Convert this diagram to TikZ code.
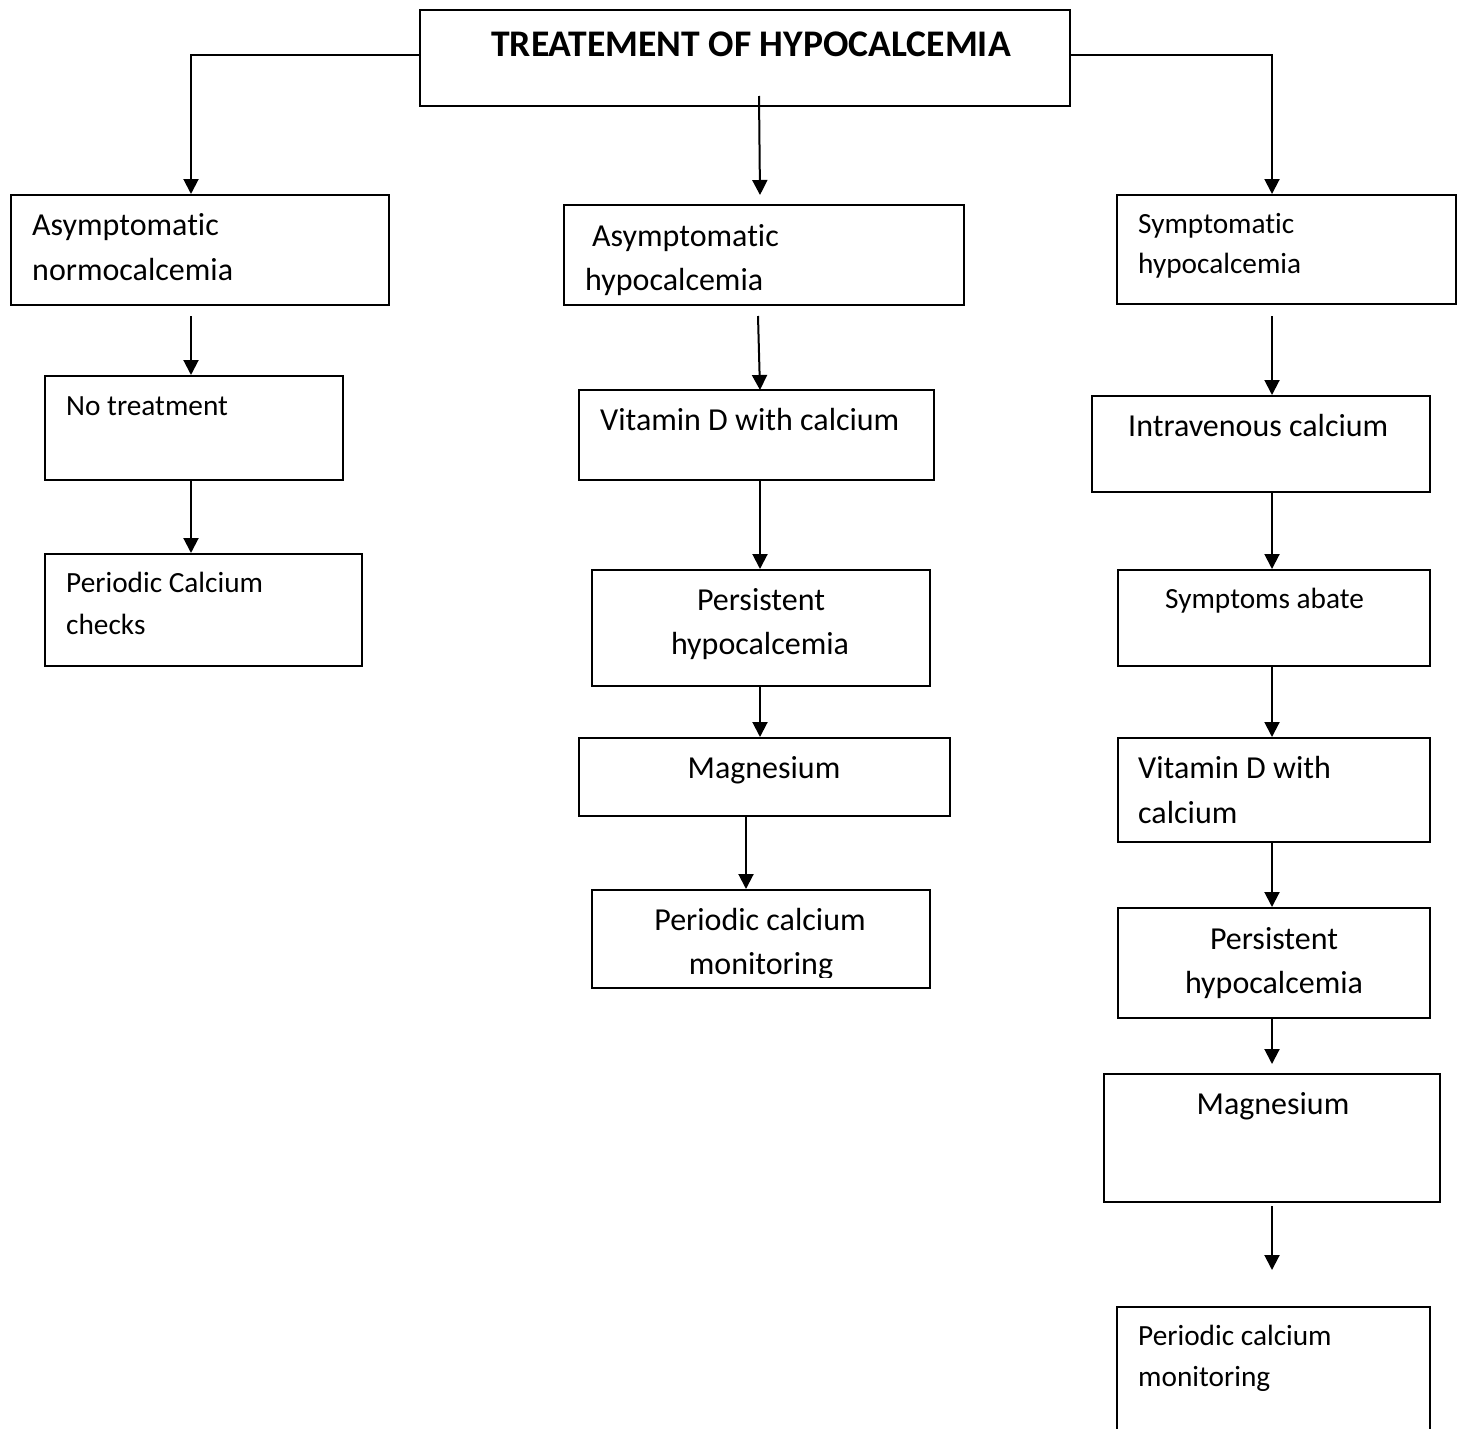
\documentclass[tikz,border=0pt]{standalone}
\usepackage{fontspec}
\setmainfont[Ligatures={NoCommon}]{Carlito}
\usetikzlibrary{arrows.meta}
\tikzset{
  box/.style={draw, line width=2pt, inner sep=0pt},
  arr/.style={line width=2pt, -{Triangle[length=15pt,width=15pt]}},
  big/.style={inner sep=0pt, font=\fontsize{32}{44}\selectfont},
  sml/.style={inner sep=0pt, font=\fontsize{29.3}{40}\selectfont},
  ttl/.style={inner sep=0pt, font=\fontsize{37.6}{44}\selectfont\bfseries},
}
\newcommand{\mybox}[5]{%
  \node[box, minimum width={(#4-#2)*1pt}, minimum height={(#5-#3)*1pt}] (#1) at ({(#2+#4)/2},{(#3+#5)/2}) {};}
\begin{document}
\begin{tikzpicture}[x=1pt,y=-1pt]
\useasboundingbox (0,0) rectangle (1459,1429);
\clip (0,0) rectangle (1459,1429);
% title
\mybox{t}{420}{10}{1070}{106}
\node[ttl, anchor=base] (tt) at (751,57) {TREATEMENT OF HYPOCALCEMIA};
% left column
\mybox{a1}{11}{195}{389}{305}
\node[big, anchor=base west] (a1a) at (32,235) {Asymptomatic};
\node[big, anchor=base west] (a1b) at (32,280) {normocalcemia};
\mybox{a2}{45}{376}{343}{480}
\node[sml, anchor=base west] (a2a) at (66,415) {No treatment};
\mybox{a3}{45}{554}{362}{666}
\node[sml, anchor=base west] (a3a) at (66,592) {Periodic Calcium};
\node[sml, anchor=base west] (a3b) at (66,634) {checks};
% middle column
\mybox{b1}{564}{205}{964}{305}
\node[big, anchor=base west] (b1a) at (592,246) {Asymptomatic};
\node[big, anchor=base west] (b1b) at (585,290) {hypocalcemia};
\mybox{b2}{579}{390}{934}{480}
\node[big, anchor=base west] (b2a) at (600,430) {Vitamin D with calcium};
\mybox{b3}{592}{570}{930}{686}
\node[big, anchor=base] (b3a) at (761,610) {Persistent};
\node[big, anchor=base] (b3b) at (760,654) {hypocalcemia};
\mybox{b4}{579}{738}{950}{816}
\node[big, anchor=base] (b4a) at (764,778) {Magnesium};
\mybox{b5}{592}{890}{930}{988}
\node[big, anchor=base] (b5a) at (760,930) {Periodic calcium};
\begin{scope}
\clip (592,890) rectangle (930,977);
\node[big, anchor=base] (b5b) at (761,974) {monitoring};
\end{scope}
% right column
\mybox{c1}{1117}{195}{1456}{304}
\node[sml, anchor=base west] (c1a) at (1138,233) {Symptomatic};
\node[sml, anchor=base west] (c1b) at (1138,273) {hypocalcemia};
\mybox{c2}{1092}{396}{1430}{492}
\node[big, anchor=base west] (c2a) at (1128,436) {Intravenous calcium};
\mybox{c3}{1118}{570}{1430}{666}
\node[sml, anchor=base west] (c3a) at (1165,608) {Symptoms abate};
\mybox{c4}{1118}{738}{1430}{842}
\node[big, anchor=base west] (c4a) at (1138,778) {Vitamin D with};
\node[big, anchor=base west] (c4b) at (1138,823) {calcium};
\mybox{c5}{1118}{908}{1430}{1018}
\node[big, anchor=base] (c5a) at (1274,949) {Persistent};
\node[big, anchor=base] (c5b) at (1274,993) {hypocalcemia};
\mybox{c6}{1104}{1074}{1440}{1202}
\node[big, anchor=base] (c6a) at (1273,1114) {Magnesium};
\mybox{c7}{1117}{1307}{1430}{1460}
\node[sml, anchor=base west] (c7a) at (1138,1345) {Periodic calcium};
\node[sml, anchor=base west] (c7b) at (1138,1386) {monitoring};
% coordinates
\coordinate (tl) at (191,55);
\coordinate (tr) at (1272,55);
\coordinate (tm) at (759,96);
\coordinate (a1s) at (191,316);
\coordinate (b1s) at (758,316);
\coordinate (c1s) at (1272,316);
\coordinate (b4s) at (746,816);
\coordinate (c6s) at (1272,1206);
\coordinate (c6e) at (1272,1270);
% connectors
\draw[arr] (t.west |- tl) -| (a1.north -| tl);
\draw[arr] (t.east |- tr) -| (c1.north -| tr);
\draw[arr] (tm) -- (760,195);
\draw[arr] (a1s) -- (a2.north -| a1s);
\draw[arr] (a2.south -| a1s) -- (a3.north -| a1s);
\draw[arr] (b1s) -- (760,390);
\draw[arr] (b2.south -| 760,0) -- (b3.north -| 760,0);
\draw[arr] (b3.south -| 760,0) -- (b4.north -| 760,0);
\draw[arr] (b4s) -- (b5.north -| b4s);
\draw[arr] (c1s) -- (c2.north -| c1s);
\draw[arr] (c2.south -| c1s) -- (c3.north -| c1s);
\draw[arr] (c3.south -| c1s) -- (c4.north -| c1s);
\draw[arr] (c4.south -| c1s) -- (c5.north -| c1s);
\draw[arr] (c5.south -| c1s) -- (1272,1064);
\draw[arr] (c6s) -- (c6e);
\end{tikzpicture}
\end{document}
